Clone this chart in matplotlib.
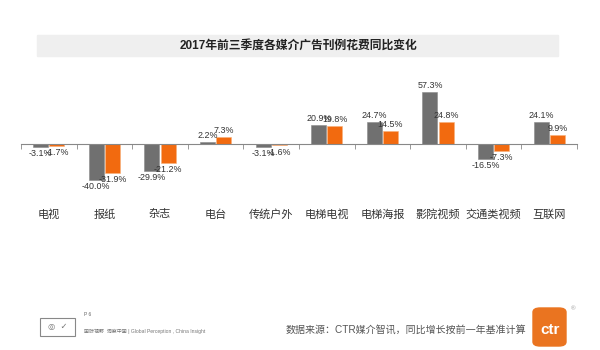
import matplotlib
matplotlib.use('Agg')
import matplotlib.pyplot as plt
import numpy as np
from matplotlib.patches import FancyBboxPatch, Rectangle

plt.rcParams['font.family'] = ['Liberation Sans', 'Noto Sans CJK SC', 'DejaVu Sans']

# data
categories = ['电视', '报纸', '杂志', '电台', '传统户外', '电梯电视', '电梯海报', '影院视频', '交通类视频', '互联网']
gray_vals = [-3.1, -40.0, -29.9, 2.2, -3.1, 20.9, 24.7, 57.3, -16.5, 24.1]
orange_vals = [-1.7, -31.9, -21.2, 7.3, -1.6, 19.8, 14.5, 24.8, -7.3, 9.9]

title = '2017年前三季度各媒介广告刊例花费同比变化'
source = '数据来源：CTR媒介智讯，同比增长按前一年基准计算'

W, H = 600, 350
fig = plt.figure(figsize=(6, 3.5), dpi=100)

# title band
fig.patches.append(Rectangle((37 / W, 1 - 56 / H), 521 / W, 21 / H,
                             transform=fig.transFigure, color='#efefef', zorder=0))
fig.text(0.497, 1 - 45.5 / H, title, ha='center', va='center',
         fontsize=8.5, fontweight='bold', color='#222222')

# axes: zero line at y=144 px, ~0.9 px per percent
ax = fig.add_axes([21 / W, 1 - 200 / H, 556 / W, 120 / H])
ax.set_xlim(-0.5, 9.5)
ax.set_ylim(-62.2, 71.1)

x = np.arange(len(categories))
w = 0.27
off = 0.145
b1 = ax.bar(x - off, gray_vals, w, color='#707070', edgecolor='#8a8a8a', linewidth=0.4, zorder=2)
b2 = ax.bar(x + off, orange_vals, w, color='#f26a0f', edgecolor='#f7b07a', linewidth=0.4, zorder=2)

for bars, vals in [(b1, gray_vals), (b2, orange_vals)]:
    for rect, v in zip(bars, vals):
        cx = rect.get_x() + rect.get_width() / 2
        if v >= 0:
            ax.annotate(f'{v:.1f}%', (cx, v), xytext=(0, 1.5), textcoords='offset points',
                        ha='center', va='bottom', fontsize=6.4, color='#333333', zorder=3)
        else:
            ax.annotate(f'{v:.1f}%', (cx, v), xytext=(0, -1.5), textcoords='offset points',
                        ha='center', va='top', fontsize=6.4, color='#333333', zorder=3)

for s in ['top', 'right', 'left']:
    ax.spines[s].set_visible(False)
ax.spines['bottom'].set_position(('data', 0))
ax.spines['bottom'].set_color('#888888')
ax.spines['bottom'].set_linewidth(0.8)
ax.set_yticks([])
ax.set_xticks(x)
ax.set_xticklabels(categories, fontsize=8, color='#333333')
ax.tick_params(axis='x', which='major', length=0, pad=47)
ax.set_xticks(np.arange(-0.5, 10, 1), minor=True)
ax.tick_params(axis='x', which='minor', length=3.5, width=0.6, color='#888888', direction='out')
ax.patch.set_alpha(0)

# footer
fig.text(286 / W, 1 - 330 / H, source, ha='left', va='center', fontsize=7.2, color='#555555')
fig.patches.append(FancyBboxPatch((533 / W, 1 - 346 / H), 33 / W, 38 / H,
                                  boxstyle='round,pad=0,rounding_size=0.012',
                                  transform=fig.transFigure, color='#ea7420', zorder=1))
fig.text(550 / W, 1 - 330 / H, 'ctr', ha='center', va='center', fontsize=11,
         fontweight='bold', color='white', zorder=2)
fig.text(573 / W, 1 - 309 / H, '®', ha='center', va='center', fontsize=4.5, color='#999999')

fig.patches.append(Rectangle((40 / W, 1 - 336 / H), 35 / W, 18 / H, transform=fig.transFigure,
                             fill=False, edgecolor='#888888', linewidth=0.8))
fig.text(58 / W, 1 - 327 / H, '◎  ✓', ha='center', va='center', fontsize=6, color='#777777',
         family=['DejaVu Sans'])
fig.text(84 / W, 1 - 314 / H, 'P 6', ha='left', va='center', fontsize=3.5, color='#666666')
fig.text(84 / W, 1 - 331 / H, '国际视野  洞察中国 | Global Perception , China Insight',
         ha='left', va='center', fontsize=3.6, color='#777777')

fig.savefig('out.png', dpi=100, facecolor='white')
